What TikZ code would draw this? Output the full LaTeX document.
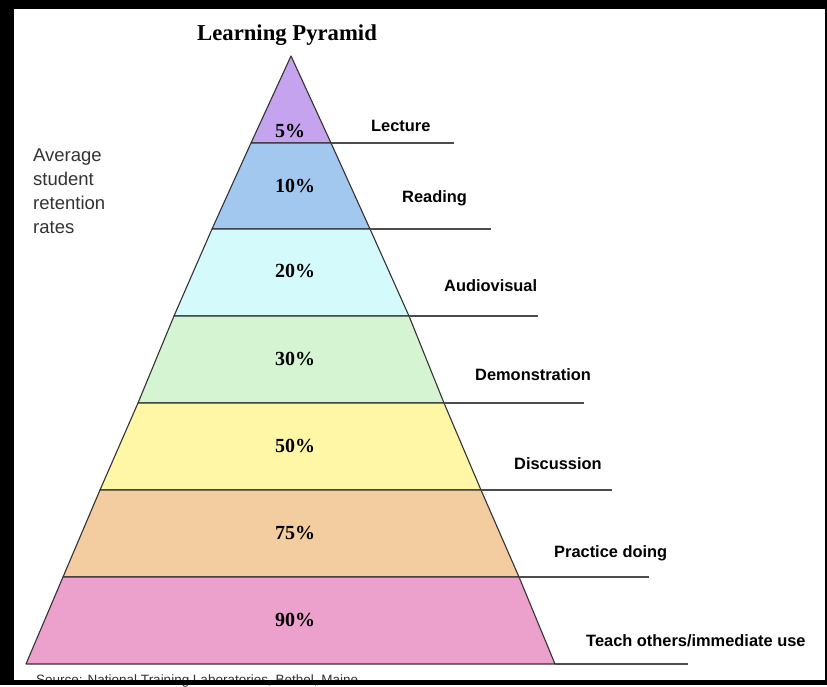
\documentclass[tikz,border=0pt]{standalone}
\usepackage{fontspec}
\setmainfont{Liberation Serif}
\newfontfamily\labelfont{Liberation Sans}

\begin{document}
\begin{tikzpicture}[x=1pt,y=-1pt,
		band/.style={draw=black!80,line width=1.1pt,line join=round},
		rule/.style={draw=black!70,line width=1.2pt},
		pct/.style={anchor=base west,inner sep=0pt,font=\fontsize{20}{24}\selectfont\bfseries},
		lbl/.style={anchor=base west,inner sep=0pt,font=\labelfont\fontsize{16.4}{19}\selectfont\bfseries}]
		\definecolor{lec}{RGB}{197,163,238}
		\definecolor{rea}{RGB}{163,200,240}
		\definecolor{aud}{RGB}{213,250,252}
		\definecolor{dem}{RGB}{213,245,210}
		\definecolor{dis}{RGB}{255,246,166}
		\definecolor{pra}{RGB}{243,204,160}
		\definecolor{tea}{RGB}{236,161,204}
		\fill[black] (0,0) rectangle (827,685);
		\fill[white] (14,9) rectangle (825,680);
		\coordinate (l0) at (291,56);
		\coordinate (r0) at (291,56);
		\foreach \i/\y/\l/\r/\e in {1/143/251/331/454,2/229/212/370/491,3/316/174/409/538,
				4/403/138/444/584,5/490/100/481/612,6/577/63/519/649,7/664/26/555/688}{
			\coordinate (l\i) at (\l,\y);
			\coordinate (r\i) at (\r,\y);
			\coordinate (e\i) at (\e,\y);
		}
		\foreach \i/\j/\c in {1/0/lec,2/1/rea,3/2/aud,4/3/dem,5/4/dis,6/5/pra,7/6/tea}
			\filldraw[band,fill=\c] (l\j) -- (r\j) -- (r\i) -- (l\i) -- cycle;
		\foreach \i in {1,...,7}
			\draw[rule] (r\i) -- (e\i);
		\node[anchor=base west,inner sep=0pt,font=\fontsize{22.7}{26}\selectfont\bfseries] (title) at (197,40) {Learning Pyramid};
		\node[pct] (p5) at (275,137) {5\%};
		\node[pct] (p10) at (275,192) {10\%};
		\node[pct] (p20) at (275,277) {20\%};
		\node[pct] (p30) at (275,365) {30\%};
		\node[pct] (p50) at (275,452) {50\%};
		\node[pct] (p75) at (275,539) {75\%};
		\node[pct] (p90) at (275,626) {90\%};
		\node[lbl] (lecture) at (371,131) {Lecture};
		\node[lbl] (reading) at (402,202) {Reading};
		\node[lbl] (audiovisual) at (444,291) {Audiovisual};
		\node[lbl] (demonstration) at (475,380) {Demonstration};
		\node[lbl] (discussion) at (514,469) {Discussion};
		\node[lbl] (practice) at (554,557) {Practice doing};
		\node[lbl] (teach) at (586,646) {Teach others/immediate use};
		\node[anchor=north west,inner sep=0pt,align=left,text=black!80,
			font=\labelfont\fontsize{18.5}{24}\selectfont] (rates) at (33,149) {Average\\student\\retention\\rates};
		\node[anchor=base west,inner sep=0pt,text=black!80,
			font=\labelfont\fontsize{13.5}{16}\selectfont] (source) at (36,684) {Source: National Training Laboratories, Bethel, Maine};
		\fill[black] (0,680) rectangle (827,685);
	\end{tikzpicture}
\end{document}
